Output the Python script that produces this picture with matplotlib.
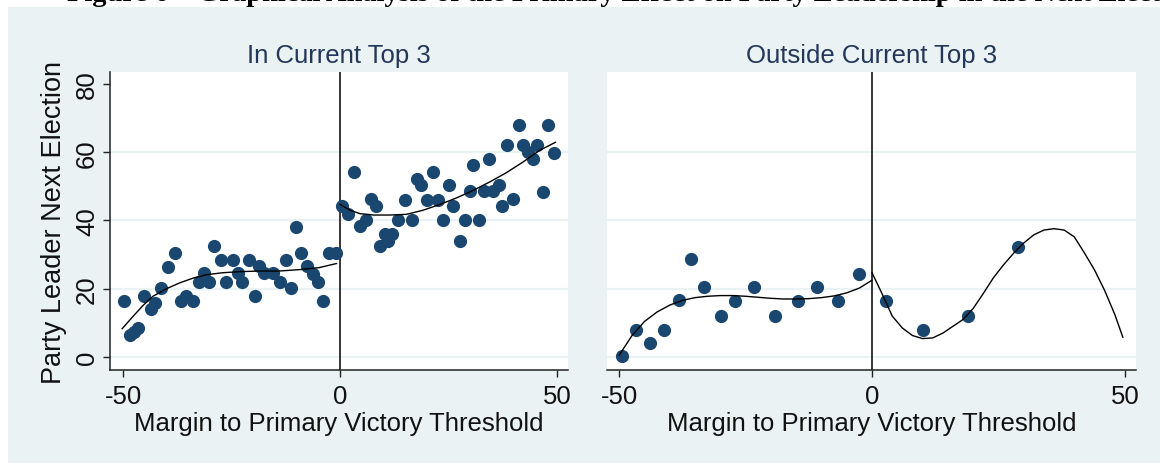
import numpy as np
import matplotlib.pyplot as plt
from matplotlib.patches import Rectangle

# ---- data ----
# panel 1: in current top 3, scatter below / above threshold
in_x = [-49.8, -48.4, -47.4, -46.5, -45.2, -43.5, -42.6, -41.2, -39.7, -38.1,
        -36.6, -35.5, -33.9, -32.4, -31.3, -30.1, -29.0, -27.4, -26.3, -24.7,
        -23.6, -22.5, -20.9, -19.6, -18.6, -17.5, -15.5, -13.8, -12.4, -11.3,
        -10.1, -9.0, -7.6, -6.3, -5.0, -4.0, -2.5, -0.9,
        0.4, 1.9, 3.2, 4.6, 6.0, 7.1, 8.3, 9.1, 10.4, 11.9,
        11.1, 13.4, 14.9, 16.5, 17.8, 18.6, 20.1, 21.5, 22.6, 23.8,
        25.0, 26.1, 27.6, 28.8, 30.0, 30.7, 31.9, 33.2, 34.2, 35.3,
        36.5, 37.3, 38.4, 39.9, 41.1, 42.2, 43.4, 44.4, 45.3, 46.8,
        48.0, 49.3]
in_y = [16.3, 6.4, 7.3, 8.5, 18.0, 14.2, 15.9, 20.2, 26.3, 30.5,
        16.3, 18.0, 16.3, 22.1, 24.7, 22.1, 32.4, 28.3, 22.1, 28.3,
        24.7, 22.1, 28.3, 18.0, 26.6, 24.7, 24.7, 22.1, 28.3, 20.2,
        38.2, 30.4, 26.6, 24.4, 22.1, 16.3, 30.4, 30.4,
        44.1, 41.9, 54.3, 38.5, 40.2, 46.3, 44.1, 32.5, 36.1, 36.1,
        34.1, 40.0, 46.1, 40.0, 52.3, 50.4, 46.1, 54.3, 46.1, 40.0,
        50.4, 44.1, 34.1, 40.0, 48.7, 56.2, 40.0, 48.7, 58.1, 48.7,
        50.4, 44.1, 62.0, 46.3, 67.9, 62.0, 60.1, 58.1, 62.0, 48.4,
        67.9, 59.7]

# fitted curves, panel 1
in_fit_lo_x = [-50.2, -47.7, -45.4, -43.1, -40.0, -37.0, -33.9, -30.8, -27.0,
               -23.2, -18.6, -14.0, -9.4, -4.8, -0.8]
in_fit_lo_y = [8.3, 11.9, 15.1, 17.8, 20.0, 21.7, 23.1, 24.1, 24.7,
               25.0, 25.2, 25.2, 25.6, 26.2, 27.4]
in_fit_hi_x = [0.0, 2.3, 4.6, 7.7, 11.5, 15.3, 19.1, 23.0, 26.8, 30.6,
               34.5, 38.3, 42.1, 45.9, 49.6]
in_fit_hi_y = [44.7, 43.0, 42.0, 41.6, 41.6, 41.8, 43.0, 44.7, 46.6, 48.8,
               51.3, 54.0, 57.1, 60.5, 62.9]

# panel 2: outside current top 3
out_x = [-49.5, -46.7, -43.8, -41.2, -38.2, -35.8, -33.3, -29.9, -27.0, -23.4,
         -19.1, -14.7, -10.8, -6.8, -2.5,
         2.8, 10.0, 19.0, 28.9]
out_y = [0.2, 8.0, 4.0, 8.0, 16.6, 28.6, 20.4, 11.9, 16.4, 20.4,
         11.9, 16.4, 20.4, 16.4, 24.4,
         16.4, 8.0, 11.9, 32.3]

out_fit_lo_x = [-50, -47.5, -45, -42.5, -40, -37.5, -35, -32.5, -30, -27.5, -25,
                -22.5, -20, -17.5, -15, -12.5, -10, -7.5, -5, -2.5, 0]
out_fit_lo_y = [0.5, 6.2, 10.4, 13.2, 15.2, 16.6, 17.4, 17.8, 18.0, 18.0, 17.8,
                17.5, 17.2, 17.0, 17.0, 17.1, 17.4, 17.9, 18.8, 20.2, 22.5]
out_fit_hi_x = [0, 2, 4, 6, 8, 10, 12, 14, 16, 18, 20, 22, 24, 26, 28, 30,
                32, 34, 36, 38, 40, 42, 44, 46, 48, 49.6]
out_fit_hi_y = [24.7, 18.5, 12.0, 8.5, 6.3, 5.4, 5.6, 7.0, 9.0, 11.0, 14.2, 18.6,
                23.2, 27.0, 30.4, 33.4, 35.8, 37.2, 37.6, 37.2, 35.2, 30.5,
                25.5, 19.5, 12.5, 5.8]

panel_titles = ['In Current Top 3', 'Outside Current Top 3']
x_ticks = [-50, 0, 50]
y_ticks = [0, 20, 40, 60, 80]
grid_vals = [0, 20, 40, 60]

BG = '#eaf2f3'
NAVY = '#1a476f'
TXT = '#111111'

plt.rcParams['font.family'] = ['Liberation Sans', 'DejaVu Sans']

fig = plt.figure(figsize=(11.6, 4.64), dpi=100)
fig.patch.set_facecolor('white')
fig.patches.append(Rectangle((8 / 1160, 0), 1, (464 - 7.5) / 464,
                             transform=fig.transFigure, facecolor=BG,
                             edgecolor='none', zorder=-10))

# figure caption, cut off at the top like the source
fig.text(67 / 1160, 1 - 1.0 / 464,
         'Figure 6 \u2013 Graphical Analysis of the Primary Effect on Party Leadership in the Next Election',
         family=['Liberation Serif', 'DejaVu Serif'], weight='bold',
         fontsize=20.5, color='black', ha='left', va='baseline', zorder=-5)

ax1 = fig.add_axes([110 / 1160, 93 / 464, 458 / 1160, 298 / 464])
ax2 = fig.add_axes([607 / 1160, 93 / 464, 529 / 1160, 298 / 464])

panels = [
    (ax1, in_x, in_y, in_fit_lo_x, in_fit_lo_y, in_fit_hi_x, in_fit_hi_y, (-53.0, 52.5)),
    (ax2, out_x, out_y, out_fit_lo_x, out_fit_lo_y, out_fit_hi_x, out_fit_hi_y, (-52.4, 52.2)),
]

for i, (ax, sx, sy, lx, ly, hx, hy, xl) in enumerate(panels):
    ax.set_facecolor('white')
    for g in grid_vals:
        ax.axhline(g, color=BG, lw=1.6, zorder=1)
    ax.axvline(0, color='black', lw=1.1, zorder=2)
    ax.plot(sx, sy, 'o', ms=9.5, color=NAVY, mec='none', zorder=3)
    ax.plot(lx, ly, color='black', lw=1.0, zorder=4)
    ax.plot(hx, hy, color='black', lw=1.0, zorder=4)
    ax.set_xlim(*xl)
    ax.set_ylim(-3.8, 83.5)
    ax.set_xticks(x_ticks)
    ax.set_xticklabels([str(t) for t in x_ticks])
    ax.tick_params(axis='x', direction='out', length=5, width=1, color='#222222',
                   labelsize=18.5, labelcolor=TXT, pad=5)
    for s in ['top', 'right']:
        ax.spines[s].set_visible(False)
    ax.spines['bottom'].set_linewidth(1.1)
    ax.spines['bottom'].set_color('#222222')
    ax.set_title(panel_titles[i], fontsize=18.5, color='#23375a', pad=7)
    ax.set_xlabel('Margin to Primary Victory Threshold', fontsize=18.5,
                  color=TXT, labelpad=2)
    if i == 0:
        ax.set_yticks(y_ticks)
        ax.set_yticklabels([str(t) for t in y_ticks], rotation=90, va='center')
        ax.tick_params(axis='y', direction='out', length=5, width=1, color='#222222',
                       labelsize=18.5, labelcolor=TXT, pad=3)
        ax.spines['left'].set_linewidth(1.1)
        ax.spines['left'].set_color('#222222')
        ax.set_ylabel('Party Leader Next Election', fontsize=19.5, color=TXT,
                      labelpad=6)
    else:
        ax.set_yticks([])
        ax.spines['left'].set_visible(False)

fig.savefig('out.png', dpi=100, facecolor='white')
